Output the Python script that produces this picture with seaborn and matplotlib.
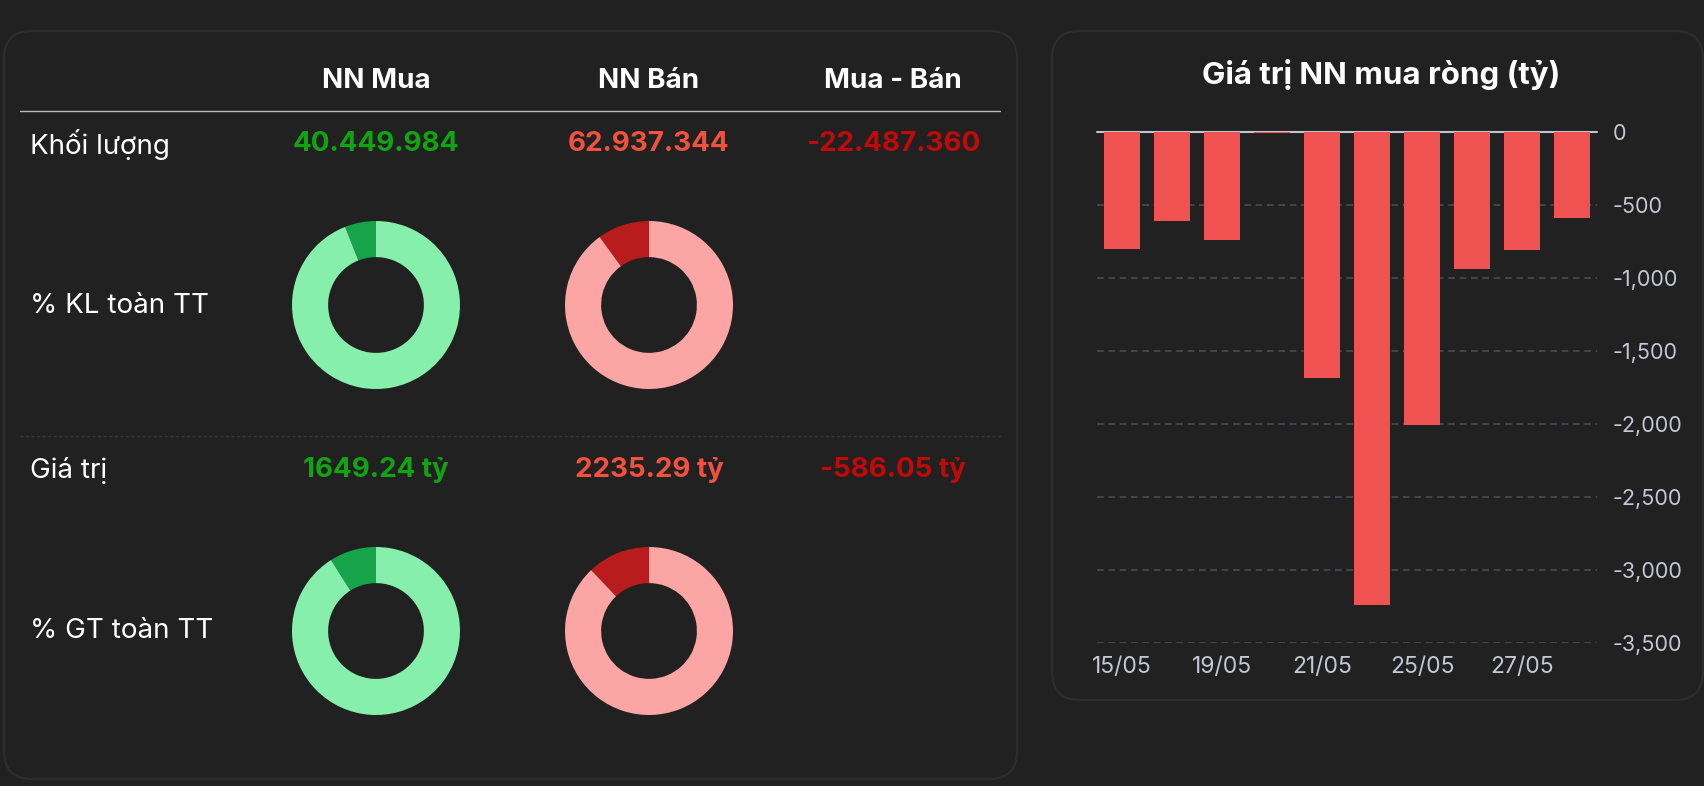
import matplotlib.pyplot as plt
import seaborn as sns
import pandas as pd
from matplotlib.patches import FancyBboxPatch
from matplotlib.ticker import FuncFormatter

# ---- data ----
dates = ["15/05", "16/05", "19/05", "20/05", "21/05", "22/05", "25/05", "26/05", "27/05", "28/05"]
net_values = [-801, -609, -740, -6, -1683, -3243, -2007, -936, -811, -586.05]

columns = ["NN Mua", "NN Bán", "Mua - Bán"]
row_labels = ["Khối lượng", "% KL toàn TT", "Giá trị", "% GT toàn TT"]
volume_texts = ["40.449.984", "62.937.344", "-22.487.360"]
value_texts = ["1649.24 tỷ", "2235.29 tỷ", "-586.05 tỷ"]
kl_share = [6.0, 10.0]    # % of whole-market volume: buy, sell
gt_share = [9.0, 12.1]    # % of whole-market value: buy, sell

BG = "#212121"
BORDER = "#2d2d2d"
BAR = "#f05252"
TICK = "#c5c6d6"
text_colors = ["#12a312", "#f0523f", "#c00a0a"]
donut_colors = [["#16a34a", "#86efac"], ["#b91c1c", "#fca5a5"]]

sns.set_style("dark")
plt.rcParams["font.family"] = ["Inter", "DejaVu Sans"]

W, H = 1704, 786
fig = plt.figure(figsize=(W / 100, H / 100), dpi=100, facecolor=BG)

# full-figure axes in pixel units for panels and table text
bg = fig.add_axes([0, 0, 1, 1])
bg.set_xlim(0, W)
bg.set_ylim(H, 0)
bg.axis("off")


def px_axes(x0, y0, x1, y1):
    return fig.add_axes([x0 / W, 1 - y1 / H, (x1 - x0) / W, (y1 - y0) / H])


for (x0, y0, x1, y1) in [(4, 31, 1017, 779), (1052, 31, 1703, 700)]:
    bg.add_patch(FancyBboxPatch((x0, y0), x1 - x0, y1 - y0,
                                boxstyle="round,pad=0,rounding_size=28",
                                fc=BG, ec=BORDER, lw=1.6))

# ---- left table ----
col_x = [376, 649, 893]
for x, name in zip(col_x, columns):
    bg.text(x, 81, name, color="white", fontsize=20, fontweight="bold",
            ha="center", va="center")
bg.plot([20, 1000], [111, 111], color="#b4b8c4", lw=1)
bg.plot([20, 1002], [436, 436], color="#383838", lw=1, ls=(0, (2, 2)))

row_y = [144, 306, 470, 631]
for y, lab in zip(row_y, row_labels):
    bg.text(30, y, lab, color="white", fontsize=20, ha="left", va="center")

for x, t, c in zip(col_x, volume_texts, text_colors):
    bg.text(x, 144, t, color=c, fontsize=20, fontweight="bold", ha="center", va="center")
for x, t, c in zip(col_x, value_texts, text_colors):
    bg.text(x, 470, t, color=c, fontsize=20, fontweight="bold", ha="center", va="center")

r = 84
for y, shares in [(305, kl_share), (631, gt_share)]:
    for x, share, cols in zip(col_x[:2], shares, donut_colors):
        dax = px_axes(x - r, y - r, x + r, y + r)
        dax.pie([share, 100 - share], colors=cols, startangle=90, counterclock=True,
                radius=1, wedgeprops=dict(width=0.43, linewidth=0))
        dax.set_xlim(-1, 1)
        dax.set_ylim(-1, 1)
        dax.axis("off")

# ---- right bar chart ----
bg.text(1381, 74, "Giá trị NN mua ròng (tỷ)", color="white", fontsize=22.5,
        fontweight="bold", ha="center", va="center")

ax = px_axes(1097, 132, 1597, 643)
df = pd.DataFrame({"date": dates, "net": net_values})
sns.barplot(data=df, x="date", y="net", color=BAR, saturation=1, width=0.72,
            linewidth=0, edgecolor=BAR, ax=ax, zorder=2)
ax.set_facecolor("none")
ax.set_xlim(-0.5, len(dates) - 0.5)
ax.set_ylim(-3500, 0)
ax.set_yticks(range(-3500, 1, 500))
ax.yaxis.set_major_formatter(FuncFormatter(lambda v, p: f"{v:,.0f}"))
ax.yaxis.tick_right()
ax.set_xticks(range(0, len(dates), 2))
ax.set_xticklabels(dates[::2])
ax.set_xlabel("")
ax.set_ylabel("")
for s in ax.spines.values():
    s.set_visible(False)
ax.tick_params(axis="both", length=0, colors=TICK)
ax.tick_params(axis="y", pad=11, labelsize=15.5)
ax.tick_params(axis="x", pad=9, labelsize=16.5)
ax.grid(False)
ax.yaxis.grid(True, color="#4a4a55", lw=1.2, ls=(0, (4, 2.8)))
ax.set_axisbelow(True)
ax.axhline(0, color="#c0c4d0", lw=1.5, zorder=1, clip_on=False)

fig.savefig("out.png", dpi=100, facecolor=BG)
plt.close(fig)
